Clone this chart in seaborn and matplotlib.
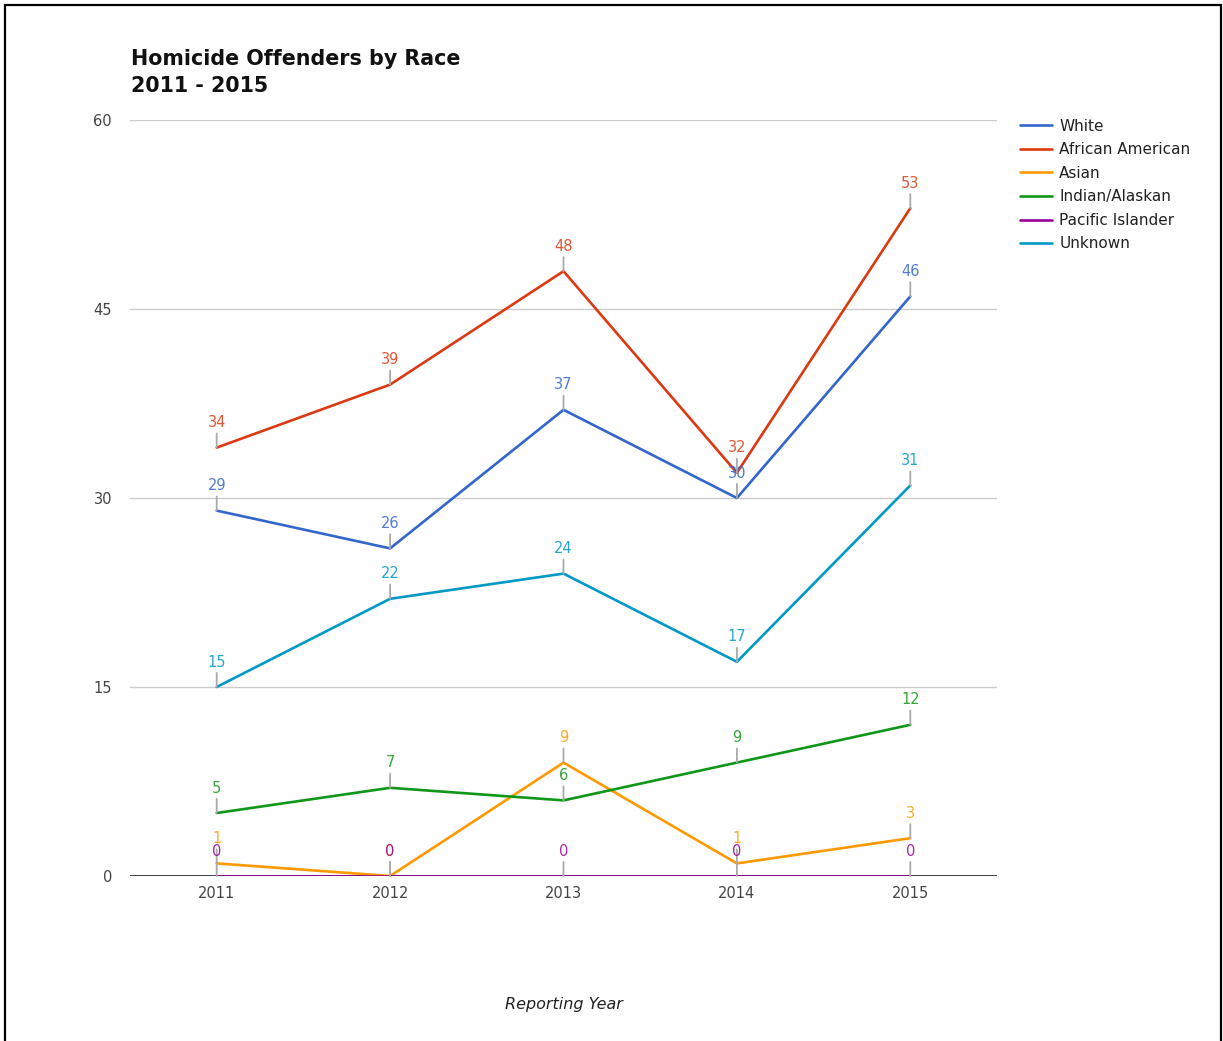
import pandas as pd
import seaborn as sns
import matplotlib.pyplot as plt
from matplotlib.patches import Rectangle

years = [2011, 2012, 2013, 2014, 2015]
races = ['White', 'African American', 'Asian', 'Indian/Alaskan', 'Pacific Islander', 'Unknown']
white = [29, 26, 37, 30, 46]
african_american = [34, 39, 48, 32, 53]
asian = [1, 0, 9, 1, 3]
indian_alaskan = [5, 7, 6, 9, 12]
pacific_islander = [0, 0, 0, 0, 0]
unknown = [15, 22, 24, 17, 31]
colors = ['#3366cc', '#dc3912', '#ff9900', '#109618', '#990099', '#0099c6']
y_ticks = [0, 15, 30, 45, 60]

series = [white, african_american, asian, indian_alaskan, pacific_islander, unknown]
df = pd.DataFrame({
    'Year': years * len(races),
    'Race': [r for r in races for _ in years],
    'Count': [v for s in series for v in s],
})

sns.set_style('white')
plt.rcParams['font.family'] = ['DejaVu Sans']

fig = plt.figure(figsize=(12.23, 10.41), dpi=100)
ax = fig.add_axes([130 / 1223, 1 - 876 / 1041, 867 / 1223, 756 / 1041])

sns.lineplot(data=df, x='Year', y='Count', hue='Race', hue_order=races,
             palette=colors, linewidth=1.9, ax=ax, legend=True)

# data labels with small gray stems
for race, color in zip(races, colors):
    sub = df[df['Race'] == race]
    for x, y in zip(sub['Year'], sub['Count']):
        ax.annotate(str(y), xy=(x, y), xytext=(0, 12.5), textcoords='offset points',
                    ha='center', va='bottom', color=color, fontsize=10.5, alpha=0.85,
                    arrowprops=dict(arrowstyle='-', color='#aaaaaa', lw=1.3,
                                    shrinkA=0, shrinkB=0))

ax.set_xlim(2010.5, 2015.5)
ax.set_ylim(0, 60)
ax.set_xticks(years)
ax.set_xticklabels([str(y) for y in years])
ax.set_yticks(y_ticks)
ax.tick_params(axis='both', length=0, labelsize=10.5, labelcolor='#444444')
ax.tick_params(axis='y', pad=13)
ax.tick_params(axis='x', pad=7)
ax.grid(axis='y', color='#cccccc', linewidth=1)
ax.axhline(0, color='#333333', linewidth=1.3, zorder=1)
for s in ax.spines.values():
    s.set_visible(False)

ax.set_xlabel('Reporting Year', fontsize=11.5, fontstyle='italic', color='#222222')
ax.xaxis.set_label_coords(0.5, -0.16)
ax.set_ylabel('')

fig.text(131 / 1223, 1 - 49 / 1041, 'Homicide Offenders by Race\n2011 - 2015',
         fontsize=14.9, fontweight='bold', color='#111111',
         va='top', ha='left', linespacing=1.42)

leg = ax.legend(loc='upper left', bbox_to_anchor=(1012 / 1223, 1 - 111 / 1041),
                bbox_transform=fig.transFigure, frameon=False, fontsize=11,
                handlelength=2.1, handletextpad=0.5, labelspacing=0.56, borderpad=0)
for t in leg.get_texts():
    t.set_color('#222222')

fig.patches.append(Rectangle((5 / 1223, -0.01), 1216 / 1223, 1.01 - 5 / 1041,
                             transform=fig.transFigure, fill=False,
                             edgecolor='black', linewidth=1.6))

fig.savefig('out.png', dpi=100)
